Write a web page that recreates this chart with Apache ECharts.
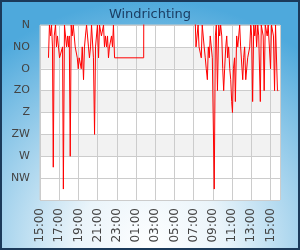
<!DOCTYPE html>
<html>
<head>
<meta charset="utf-8">
<script src="https://cdn.jsdelivr.net/npm/echarts@6/dist/echarts.min.js"></script>
<style>
html,body{margin:0;padding:0;}
#c{width:300px;height:250px;}
</style>
</head>
<body>
<div id="c"></div>
<script>
// minutes since 15:00 (day 1)
var times = [53,59,66,72,78,83,89,97,103,109,116,122,128,134,141,146,153,159,166,172,178,183,189,195,201,208,214,220,226,233,239,245,251,258,264,272,278,284,291,297,303,309,316,322,328,334,341,347,353,359,366,372,378,384,391,397,403,409,416,422,428,434,441,447,453,459,466,648,649,968,
971,975,981,988,994,1000,1008,1014,1020,1026,1033,1039,1046,1052,1058,1064,1071,1077,1083,1089,1096,1102,1109,1117,1123,1129,1136,1142,1148,1154,1161,1167,1173,1179,1186,1192,1198,1203,1209,1216,1221,1229,1236,1242,1248,1254,1261,1267,1273,1279,1286,1292,1298,1304,1311,1317,1323,1329,1336,1342,1348,1354,1361,1367,1372,1377,1383,1389,1395,1401,1408,1414,1420,1426,1433,1441,1447,1453,1459,1466,1472,1478,1484,1489];
// wind direction in degrees (0 = N); -90 = outside the plotted range
var directions = [67.5,0,22.5,0,45,292.5,22.5,0,45,22.5,22.5,67.5,67.5,67.5,45,337.5,0,0,45,22.5,45,22.5,270,0,22.5,0,0,45,45,67.5,90,67.5,67.5,90,45,112.5,45,22.5,0,0,45,67.5,45,0,0,67.5,225,45,45,0,67.5,0,0,22.5,22.5,0,45,22.5,45,22.5,67.5,45,45,22.5,45,0,67.5,67.5,-90,-90,
0,45,45,0,45,45,67.5,0,0,45,67.5,90,112.5,45,67.5,22.5,22.5,67.5,67.5,337.5,22.5,0,135,0,22.5,0,22.5,90,135,90,45,22.5,67.5,45,90,112.5,157.5,180,90,67.5,157.5,22.5,45,45,0,45,45,112.5,67.5,45,112.5,112.5,67.5,67.5,45,0,22.5,157.5,0,22.5,0,45,0,22.5,22.5,157.5,0,0,22.5,135,0,0,22.5,0,0,90,0,0,22.5,135,0,0,135,135];
var dirLabels = ['N','NO','O','ZO','Z','ZW','W','NW'];
var title = 'Windrichting';

var data = times.map(function(t,i){return [t, directions[i]];});
var chart = echarts.init(document.getElementById('c'), null, {renderer:'canvas'});
chart.setOption({
  animation:false,
  graphic:{elements:[{
    type:'rect', z:-100, silent:true,
    shape:{x:1,y:1,width:298,height:248},
    style:{
      fill:{type:'radial',x:0.5,y:1,r:1,colorStops:[
        {offset:0,color:'#ffffff'},{offset:0.3,color:'#eaf4fa'},{offset:1,color:'#4ea9dc'}]},
      stroke:'#1b3a5a', lineWidth:2
    }
  }]},
  title:{text:title,left:'center',top:3,textStyle:{fontFamily:'DejaVu Sans',fontSize:13,fontWeight:'normal',color:'#1b3d63'}},
  grid:{left:40,top:25,right:20,bottom:50,show:true,backgroundColor:'#ffffff',borderColor:'#cccccc',borderWidth:1},
  xAxis:{
    type:'value',min:0,max:1500,interval:120,
    axisLine:{show:false},axisTick:{show:false},
    splitLine:{show:true,lineStyle:{color:'#cccccc',width:1}},
    axisLabel:{rotate:90,margin:8,fontFamily:'DejaVu Sans',fontSize:12,color:'#444',
      formatter:function(v){ if(v%120!==0) return ''; var h=(15+v/60)%24; return (h<10?'0':'')+h+':00';}}
  },
  yAxis:{
    type:'value',inverse:true,min:0,max:360,interval:45,
    axisLine:{show:false},axisTick:{show:false},
    splitLine:{show:true,lineStyle:{color:'#cccccc',width:1}},
    splitArea:{show:true,areaStyle:{color:['#ffffff','#f2f2f2','#ffffff','#f2f2f2','#ffffff','#f2f2f2','#ffffff','#ffffff']}},
    axisLabel:{margin:10,fontFamily:'DejaVu Sans',fontSize:11,color:'#444',
      formatter:function(v){var i=Math.round(v/45); return i<dirLabels.length?dirLabels[i]:'';}}
  },
  series:[{type:'line',data:data,symbol:'none',clip:true,lineStyle:{color:'#ff0000',width:1}}]
});
</script>
</body>
</html>
